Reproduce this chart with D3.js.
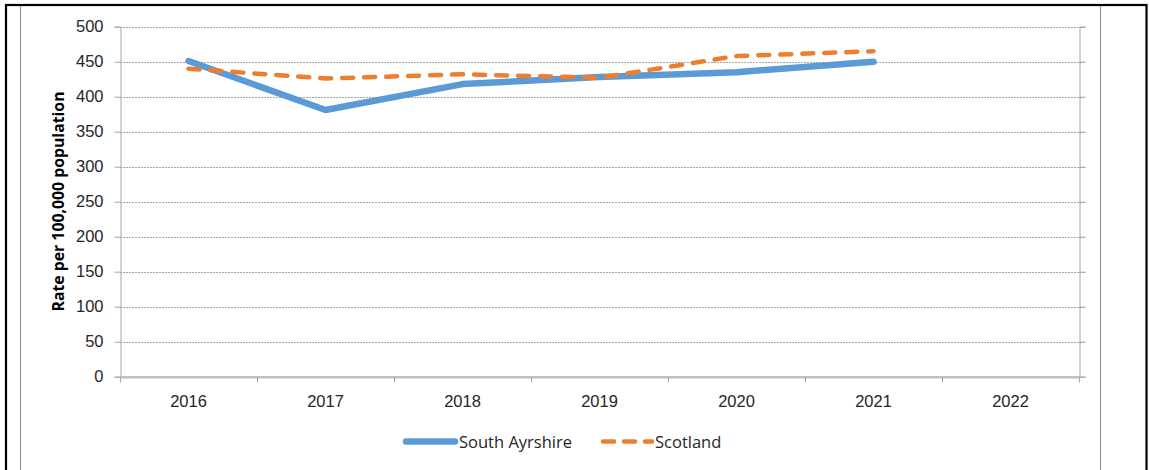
<!DOCTYPE html>
<html><head><meta charset="utf-8">
<script src="https://cdn.jsdelivr.net/npm/d3@7"></script>
<style>
body{margin:0;background:#fff;}
svg{display:block;font-family:"Open Sans","Liberation Sans",sans-serif;}
</style></head>
<body><svg id="c" width="1149" height="470"></svg>
<script>
const years = ["2016","2017","2018","2019","2020","2021","2022"];
const southAyrshire = [451, 381, 418, 428, 435, 450, null];
const scotland = [440, 426, 432, 427, 458, 465, null];
const yTicks = [0,50,100,150,200,250,300,350,400,450,500];
const seriesNames = ["South Ayrshire","Scotland"];

const svg = d3.select("#c");
// frame
svg.append("rect").attr("x",6).attr("y",5).attr("width",1140.5).attr("height",480)
  .attr("fill","none").attr("stroke","#000").attr("stroke-width",2.2);
svg.append("line").attr("x1",20.5).attr("x2",20.5).attr("y1",6).attr("y2",470).attr("stroke","#999").attr("stroke-width",1.2);
svg.append("line").attr("x1",1100.5).attr("x2",1100.5).attr("y1",6).attr("y2",470).attr("stroke","#999").attr("stroke-width",1.2);

const pL=120, pR=1079, pT=26.7, pB=376.7;
const x = d3.scaleBand().domain(years).range([pL,pR]);
const y = d3.scaleLinear().domain([0,500]).range([pB,pT]);
const FS = 16.5;

// gridlines
svg.append("g").selectAll("line").data(yTicks.filter(d=>d>0)).join("line")
  .attr("x1",pL).attr("x2",pR+6).attr("y1",d=>Math.round(y(d))+0.5).attr("y2",d=>Math.round(y(d))+0.5)
  .attr("stroke","#a6a6a6").attr("stroke-width",1).attr("stroke-dasharray","2,1");

// y axis
const ya = svg.append("g").attr("transform",`translate(${pL+0.5},0)`)
  .call(d3.axisLeft(y).tickValues(yTicks).tickSize(6).tickPadding(11));
ya.select(".domain").attr("stroke","#a6a6a6");
ya.selectAll(".tick line").attr("stroke","#a6a6a6");
ya.selectAll("text").attr("font-size",FS).attr("fill","#262626");

// right line
const yr = svg.append("g").attr("transform",`translate(${pR+0.5},0)`)
  .call(d3.axisRight(y).tickValues(yTicks).tickSize(6).tickFormat(""));
yr.select(".domain").attr("stroke","#a6a6a6");
yr.selectAll(".tick line").attr("stroke","#a6a6a6");

// x axis
const xa = svg.append("g").attr("transform",`translate(0,${pB+0.5})`)
  .call(d3.axisBottom(x).tickSize(0).tickPadding(18));
xa.select(".domain").remove();
xa.selectAll("text").attr("font-size",FS).attr("fill","#262626");
svg.append("line").attr("x1",pL).attr("x2",pR+1).attr("y1",pB+0.5).attr("y2",pB+0.5)
  .attr("stroke","#bfbfbf").attr("stroke-width",2.5);
const bounds = years.map(d=>x(d)).concat([pR]);
svg.append("g").selectAll("line").data(bounds).join("line")
  .attr("x1",d=>Math.round(d)+0.5).attr("x2",d=>Math.round(d)+0.5)
  .attr("y1",pB).attr("y2",pB+6).attr("stroke","#a6a6a6");

// y title
svg.append("text").attr("transform",`translate(64,201.5) rotate(-90)`)
  .attr("text-anchor","middle").attr("font-size",15.8).attr("font-weight","bold").attr("fill","#000")
  .text("Rate per 100,000 population");

const line = d3.line().defined(d=>d.v!=null).x(d=>x(d.k)+x.bandwidth()/2).y(d=>y(d.v));
const mk = arr => years.map((k,i)=>({k,v:arr[i]}));
svg.append("path").datum(mk(southAyrshire)).attr("d",line).attr("fill","none")
  .attr("stroke","#5b9bd5").attr("stroke-width",6.5).attr("stroke-linecap","round").attr("stroke-linejoin","round");
svg.append("path").datum(mk(scotland)).attr("d",line).attr("fill","none")
  .attr("stroke","#ed7d31").attr("stroke-width",4.5).attr("stroke-linecap","round").attr("stroke-linejoin","round")
  .attr("stroke-dasharray","11,11");

// legend
const lg = svg.append("g");
lg.append("line").attr("x1",406).attr("x2",455).attr("y1",441.5).attr("y2",441.5)
  .attr("stroke","#5b9bd5").attr("stroke-width",6.5).attr("stroke-linecap","round");
lg.append("text").attr("x",459).attr("y",447.5).attr("font-size",FS).attr("fill","#262626").text(seriesNames[0]);
lg.append("line").attr("x1",603).attr("x2",652).attr("y1",441.5).attr("y2",441.5)
  .attr("stroke","#ed7d31").attr("stroke-width",4.5).attr("stroke-linecap","round").attr("stroke-dasharray","11,10");
lg.append("text").attr("x",655).attr("y",447.5).attr("font-size",FS).attr("fill","#262626").text(seriesNames[1]);
</script></body></html>
